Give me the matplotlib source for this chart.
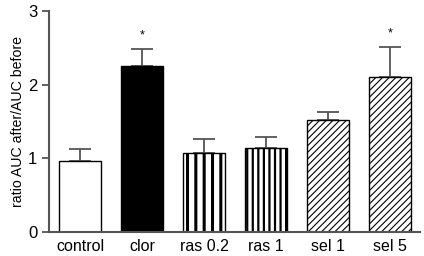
import numpy as np
import matplotlib.pyplot as plt

plt.rcParams['font.family'] = ['Liberation Sans', 'DejaVu Sans']

# data
groups = ['control', 'clor', 'ras 0.2', 'ras 1', 'sel 1', 'sel 5']
means = [0.97, 2.26, 1.07, 1.14, 1.52, 2.10]
sem = [0.15, 0.23, 0.19, 0.15, 0.11, 0.41]
signif = [False, True, False, False, False, True]

fills = ['white', 'black', 'white', 'white', 'white', 'white']
hatches = [None, None, '||', '|||', '/////', '/////']
hatch_lw = [1, 1, 2.2, 1.6, 0.8, 0.8]

axcol = '#555555'

fig = plt.figure(figsize=(4.24, 2.56), dpi=100)
ax = fig.add_axes([0.1156, 0.094, 0.875, 0.863])

x = np.arange(len(groups))
for i in range(len(groups)):
    with plt.rc_context({'hatch.linewidth': hatch_lw[i]}):
        ax.bar(x[i], means[i], width=0.67, color=fills[i], edgecolor='black',
               linewidth=1, hatch=hatches[i], zorder=2)
    ax.errorbar(x[i], means[i], yerr=[[0], [sem[i]]], fmt='none', ecolor=axcol,
                elinewidth=1.3, capsize=8, capthick=1.3, zorder=1)
    if signif[i]:
        ax.text(x[i], means[i] + sem[i] + 0.1, '*', ha='center', va='bottom', fontsize=9)

ax.set_xlim(-0.5, 5.48)
ax.set_ylim(0, 3)
ax.set_yticks([0, 1, 2, 3])
ax.set_xticks(x)
ax.set_xticklabels(groups, fontsize=11.5)
ax.tick_params(axis='y', labelsize=12, color=axcol, width=1.3, length=5)
ax.tick_params(axis='x', length=0, pad=5)
ax.set_ylabel('ratio AUC after/AUC before', fontsize=10.2, labelpad=2)
for s in ['top', 'right']:
    ax.spines[s].set_visible(False)
for s in ['left', 'bottom']:
    ax.spines[s].set_color(axcol)
    ax.spines[s].set_linewidth(1.5)

fig.savefig('out.png', dpi=100)
